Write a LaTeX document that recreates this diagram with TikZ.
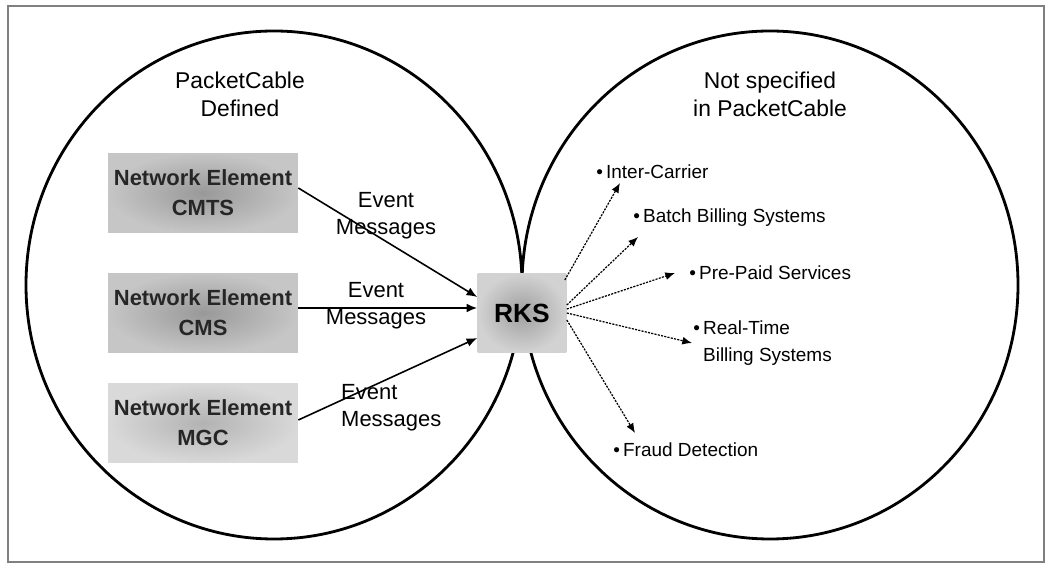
\documentclass[tikz,border=0pt]{standalone}
\usepackage{fontspec}
\setmainfont{Liberation Sans}
\usetikzlibrary{calc,arrows.meta}

\begin{document}
\begin{tikzpicture}[x=0.02cm,y=-0.02cm,
    ring/.style={line width=1.6pt},
    elem/.style={minimum width=3.8cm,minimum height=1.6cm,inner sep=0pt,
        align=center,font=\fontsize{12.5}{17}\selectfont\bfseries,text=black!85,
        shading=radial,inner color=gray!80,outer color=gray!45},
    flow/.style={-{Latex[length=6pt,width=5pt]},line width=0.9pt},
    feed/.style={-{Latex[length=5.5pt,width=4.5pt]},line width=0.7pt,
        dash pattern=on 1.2pt off 0.7pt},
    msg/.style={align=center,font=\fontsize{12.5}{15.3}\selectfont},
    item/.style={anchor=west,inner sep=0pt,align=left,
        font=\fontsize{10.8}{15.3}\selectfont}]
    \useasboundingbox (0,0) rectangle (1045,563);
    \draw[gray,line width=0.6pt] (8,6) rectangle (1044,562);

    \draw[ring] (274,285) ellipse (248 and 254);
    \draw[ring] (770,285) ellipse (248 and 254);

    \node[align=center,font=\fontsize{13}{16}\selectfont] at (240,94) 
        {PacketCable\\Defined};
    \node[align=center,font=\fontsize{13}{16}\selectfont] at (770,94) 
        {Not specified\\in PacketCable};

    \node[elem] (cmts) at (203,193) {Network Element\\CMTS};
    \node[elem] (cms) at (203,313) {Network Element\\CMS};
    \node[elem,inner color=gray!60,outer color=gray!30] (mgc) at (203,423) 
        {Network Element\\MGC};

    \node[minimum width=1.78cm,minimum height=1.6cm,inner sep=0pt,
        shading=radial,inner color=gray!75,outer color=gray!35,
        font=\fontsize{15}{18}\selectfont\bfseries] (rks) at (522,313) {RKS};

    \path[flow] ($(cmts.east)+(0,-5)$) edge ($(rks.west)+(0,-16)$);
    \path[flow] ($(cms.east)+(0,-5)$) edge ($(rks.west)+(0,-5)$);
    \path[flow] ($(mgc.east)+(0,-3)$) edge ($(rks.west)+(0,25)$);

    \node[msg] (msga) at (386,216) {Event\\Messages};
    \node[msg] (msgb) at (376,306) {Event\\Messages};
    \node[msg,align=left,anchor=west] (msgc) at (335,408) {Event\\Messages};

    \node[item] (ic) at (596,172) {\textbullet\,Inter-Carrier};
    \node[item] (bb) at (633,218) {\textbullet\,Batch Billing Systems};
    \node[item] (pp) at (689,273) {\textbullet\,Pre-Paid Services};
    \node[item] (rt) at (693,343) 
        {\textbullet\,Real-Time\\\hphantom{\textbullet\,}Billing Systems};
    \node[item] (fd) at (613,450) {\textbullet\,Fraud Detection};

    \path[feed] ($(rks.east)+(-2,-33)$) edge ($(ic.west)+(24,11)$);
    \path[feed] ($(rks.east)+(0,-8)$) edge ($(bb.west)+(5,19)$);
    \path[feed] ($(rks.east)+(0,-4)$) edge ($(pp.west)+(-14,0)$);
    \path[feed] (rks.east) edge ($(rt.west)+(-1,0)$);
    \path[feed] ($(rks.east)+(0,7)$) edge ($(fd.west)+(22,-17)$);
\end{tikzpicture}
\end{document}
